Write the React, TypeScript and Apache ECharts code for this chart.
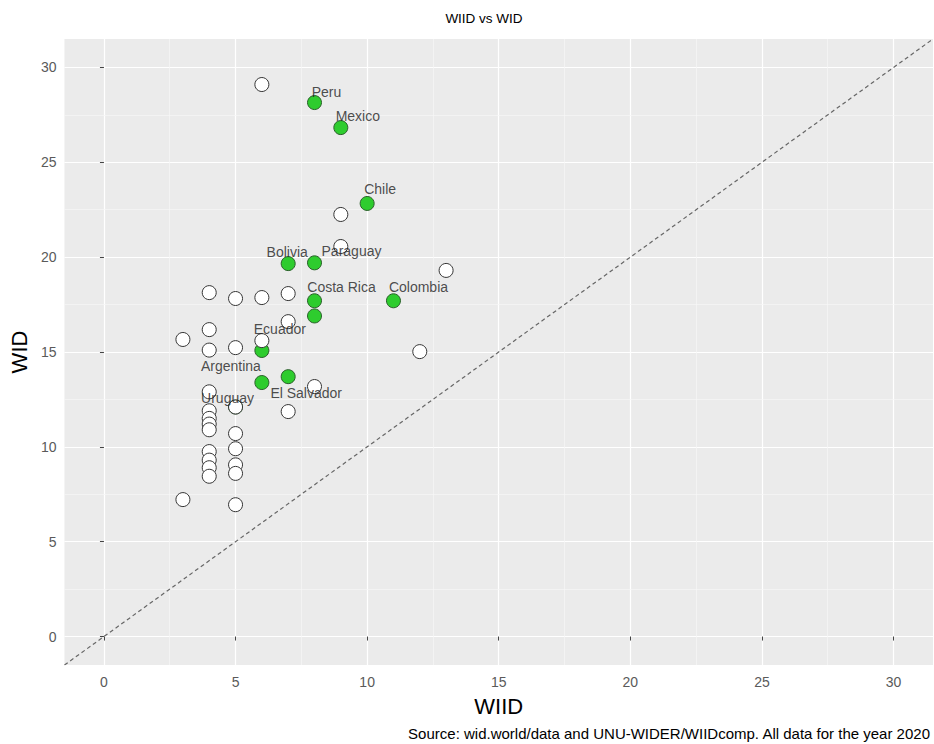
import React, { useEffect, useRef } from "react";
import * as echarts from "echarts";

// Highlighted (green) countries
const greenCountries = ["Peru", "Mexico", "Chile", "Bolivia", "Paraguay", "Costa Rica", "", "Colombia", "Ecuador", "Argentina", "El Salvador", "Uruguay"];
const greenWIID = [8, 9, 10, 7, 8, 8, 8, 11, 6, 6, 7, 5];
const greenWID = [28.15, 26.83, 22.83, 19.66, 19.7, 17.7, 16.9, 17.7, 15.08, 13.39, 13.7, 12.1];

// Other countries (white)
const otherWIID = [6, 9, 9, 13, 4, 5, 6, 7, 7, 4, 3, 4, 5, 6, 12, 8, 4, 5, 7, 4, 4, 4, 4, 4, 4, 4, 4, 5, 5, 5, 5, 5, 3];
const otherWID = [29.1, 22.25, 20.56, 19.3, 18.13, 17.82, 17.87, 18.08, 16.6, 16.18, 15.66, 15.1, 15.23, 15.6, 15.02, 13.18, 12.9, 12.1, 11.86, 11.9, 11.5, 11.2, 10.9, 9.75, 9.3, 8.9, 8.45, 10.7, 9.9, 9.05, 8.6, 6.95, 7.22];

const axisTicks = [0, 5, 10, 15, 20, 25, 30];
const minorBreaks = [2.5, 7.5, 12.5, 17.5, 22.5, 27.5];
const axisRange = [-1.5, 31.5];

const titleText = "WIID vs WID";
const xTitle = "WIID";
const yTitle = "WID";
const captionText = "Source: wid.world/data and UNU-WIDER/WIIDcomp. All data for the year 2020";

// label placement (pixel offsets from the point centre)
const labelOffsets = [[12, -11], [17, -12], [13, -14], [-1, -12], [37, -12], [27, -14], [0, 0], [25, -14], [18, -21], [-31, -17], [18, 16], [-8, -9]];

const FONT = "'Liberation Sans', Arial, sans-serif";

export default function App() {
  const ref = useRef<HTMLDivElement>(null);
  useEffect(() => {
    if (!ref.current) return;
    const chart = echarts.init(ref.current, undefined, { renderer: "svg" });

    const greenData = greenWIID.map((x, i) => ({ value: [x, greenWID[i]], name: greenCountries[i] }));
    const whiteData = otherWIID.map((x, i) => [x, otherWID[i]]);
    const labelData = greenWIID
      .map((x, i) => ({
        value: [x, greenWID[i]],
        name: greenCountries[i],
        label: { offset: labelOffsets[i] },
      }))
      .filter((d) => d.name !== "");

    const axisCommon = (name: string, isY: boolean) => ({
      type: "value",
      min: axisRange[0],
      max: axisRange[1],
      name,
      nameLocation: "middle",
      nameGap: 30,
      nameTextStyle: { fontSize: 22, color: "#000", fontFamily: FONT },
      axisLine: { show: false },
      axisTick: {
        show: true,
        customValues: axisTicks,
        length: 4,
        lineStyle: { color: "#444", width: 1 },
      },
      axisLabel: {
        customValues: axisTicks,
        color: "#5a5a5a",
        fontSize: 14,
        fontFamily: FONT,
        margin: isY ? 8 : 10,
      },
      splitLine: { show: true, lineStyle: { color: "#ffffff", width: 1.2 } },
    });

    chart.setOption({
      animation: false,
      backgroundColor: "#ffffff",
      textStyle: { fontFamily: FONT },
      grid: {
        left: 64,
        right: 1,
        top: 39,
        bottom: 79,
        show: true,
        backgroundColor: "#ebebeb",
        borderWidth: 0,
      },
      xAxis: axisCommon(xTitle, false),
      yAxis: axisCommon(yTitle, true),
      graphic: [
        {
          type: "text",
          x: 484,
          y: 18,
          style: {
            text: titleText,
            fontSize: 13.5,
            fontFamily: FONT,
            fill: "#000",
            textAlign: "center",
            textVerticalAlign: "middle",
          },
        },
        {
          type: "text",
          x: 930,
          y: 733,
          style: {
            text: captionText,
            fontSize: 15,
            fontFamily: FONT,
            fill: "#000",
            textAlign: "right",
            textVerticalAlign: "middle",
          },
        },
      ],
      series: [
        {
          type: "line",
          z: 1.5,
          data: [
            [axisRange[0], axisRange[0]],
            [axisRange[1], axisRange[1]],
          ],
          symbol: "none",
          silent: true,
          lineStyle: { color: "#666", width: 1.2, type: [4, 3] },
          markLine: {
            z: 1,
            silent: true,
            symbol: "none",
            label: { show: false },
            lineStyle: { color: "#f7f7f7", width: 0.7, type: "solid" },
            data: [
              ...minorBreaks.map((v) => ({ xAxis: v })),
              ...minorBreaks.map((v) => ({ yAxis: v })),
            ],
          },
        },
        {
          type: "scatter",
          z: 2,
          data: greenData,
          symbolSize: 14,
          itemStyle: { color: "#2ecc2e", borderColor: "#2a5f2a", borderWidth: 1, opacity: 1 },
        },
        {
          type: "scatter",
          z: 3,
          data: whiteData,
          symbolSize: 14,
          itemStyle: { color: "#ffffff", borderColor: "#333", borderWidth: 1, opacity: 1 },
        },
        {
          type: "scatter",
          z: 4,
          silent: true,
          data: labelData,
          symbolSize: 2,
          itemStyle: { color: "rgba(0,0,0,0)", borderWidth: 0 },
          label: {
            show: true,
            position: "inside",
            formatter: "{b}",
            color: "#222",
            fontSize: 14,
            fontFamily: FONT,
          },
        },
      ],
    });
    return () => chart.dispose();
  }, []);
  return (
    <div
      ref={ref}
      style={{ position: "fixed", left: 0, top: 0, width: 934, height: 744 }}
    />
  );
}
